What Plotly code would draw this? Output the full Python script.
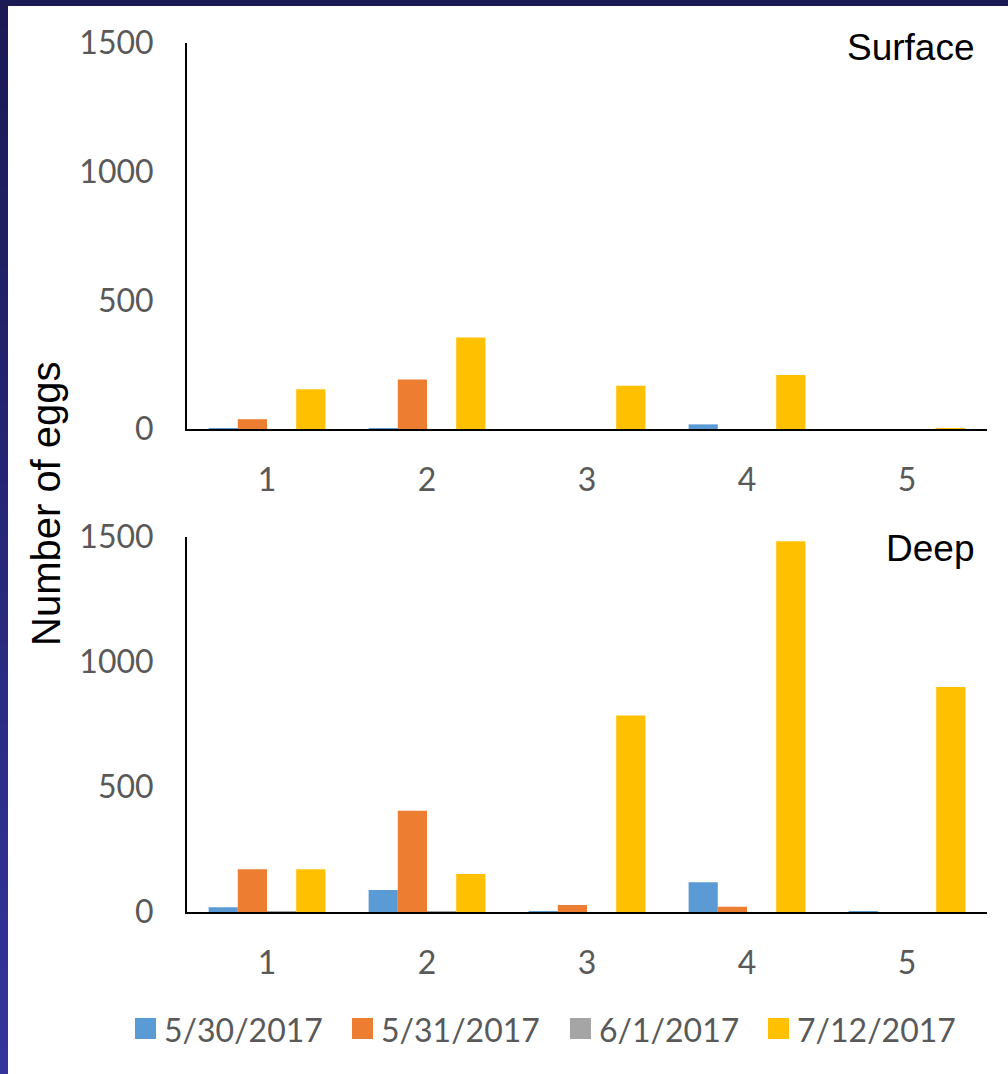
import plotly.graph_objects as go

# Sampling stations and sampling dates
stations = ["1", "2", "3", "4", "5"]
dates = ["5/30/2017", "5/31/2017", "6/1/2017", "7/12/2017"]
colors = ["#5B9BD5", "#ED7D31", "#A5A5A5", "#FFC000"]

# Egg counts, surface samples
surface_0530 = [2, 2, 0, 18, 0]
surface_0531 = [38, 192, 0, 0, 0]
surface_0601 = [0, 0, 0, 0, 0]
surface_0712 = [154, 356, 168, 210, 3]

# Egg counts, deep samples
deep_0530 = [19, 88, 3, 119, 2]
deep_0531 = [171, 405, 28, 21, 0]
deep_0601 = [3, 3, 0, 0, 0]
deep_0712 = [171, 152, 786, 1483, 900]

y_ticks = [0, 500, 1000, 1500]

surface = [surface_0530, surface_0531, surface_0601, surface_0712]
deep = [deep_0530, deep_0531, deep_0601, deep_0712]

W, H = 1008, 1074
px = lambda x: x / W
py = lambda y: (H - y) / H

fig = go.Figure()
for name, col, s, d in zip(dates, colors, surface, deep):
    fig.add_trace(go.Bar(x=stations, y=s, name=name, marker=dict(color=col, line=dict(width=0)),
                         xaxis="x", yaxis="y", showlegend=False))
    fig.add_trace(go.Bar(x=stations, y=d, name=name, marker=dict(color=col, line=dict(width=0)),
                         xaxis="x2", yaxis="y2", showlegend=False))

tick_font = dict(family="Lato", size=32, color="#595959")
x_common = dict(domain=[px(187), px(987)], type="category", showline=True, linecolor="black",
                linewidth=2, showgrid=False, zeroline=False, ticks="", tickfont=tick_font,
                ticklabelstandoff=22, automargin=False)
y_common = dict(range=[0, 1500], tickvals=y_ticks, showline=True, linecolor="black", linewidth=2,
                showgrid=False, zeroline=False, ticks="", tickfont=tick_font, ticklabelstandoff=25,
                automargin=False)

fig.update_layout(
    width=W, height=H,
    margin=dict(l=0, r=0, t=0, b=0, autoexpand=False),
    paper_bgcolor="white", plot_bgcolor="rgba(0,0,0,0)",
    barmode="group", bargap=0.27, bargroupgap=0,
    xaxis=dict(**x_common, anchor="y"),
    yaxis=dict(**y_common, domain=[py(429), py(43)], anchor="x"),
    xaxis2=dict(**x_common, anchor="y2"),
    yaxis2=dict(**y_common, domain=[py(912), py(537)], anchor="x2"),
)

shapes = []
# Slide frame: shaded band on the left, dark band on top
n = 40
c0, c1 = (0x1B, 0x1A, 0x55), (0x34, 0x34, 0x9C)
for i in range(n):
    t = i / (n - 1)
    c = tuple(round(a + (b - a) * t) for a, b in zip(c0, c1))
    shapes.append(dict(type="rect", xref="paper", yref="paper", x0=0, x1=px(8),
                       y0=py(min(H, H * (i + 1) / n + 2)), y1=py(H * i / n),
                       fillcolor="rgb(%d,%d,%d)" % c, line=dict(width=0), layer="above"))
shapes.append(dict(type="rect", xref="paper", yref="paper", x0=0, x1=1, y0=py(6), y1=1,
                   fillcolor="#1B1A55", line=dict(width=0), layer="above"))

annotations = [
    dict(text="Surface", x=px(977), y=py(48), xref="paper", yref="paper", xanchor="right",
         yanchor="middle", showarrow=False, font=dict(family="Liberation Sans", size=37, color="black")),
    dict(text="Deep", x=px(976), y=py(548), xref="paper", yref="paper", xanchor="right",
         yanchor="middle", showarrow=False, font=dict(family="Liberation Sans", size=37, color="black")),
    dict(text="Number of eggs", x=px(46), y=py(504), xref="paper", yref="paper", textangle=-90,
         xanchor="center", yanchor="middle", showarrow=False,
         font=dict(family="Liberation Sans", size=40, color="black")),
]

# Legend row
legend_x = [135, 352, 570, 768]
for name, col, lx in zip(dates, colors, legend_x):
    shapes.append(dict(type="rect", xref="paper", yref="paper", x0=px(lx), x1=px(lx + 21),
                       y0=py(1039), y1=py(1018), fillcolor=col, line=dict(width=0)))
    annotations.append(dict(text=name, x=px(lx + 27), y=py(1029), xref="paper", yref="paper",
                            xanchor="left", yanchor="middle", showarrow=False,
                            font=dict(family="Lato", size=32, color="#595959")))

fig.update_layout(shapes=shapes, annotations=annotations)
fig.write_html("out.html")
